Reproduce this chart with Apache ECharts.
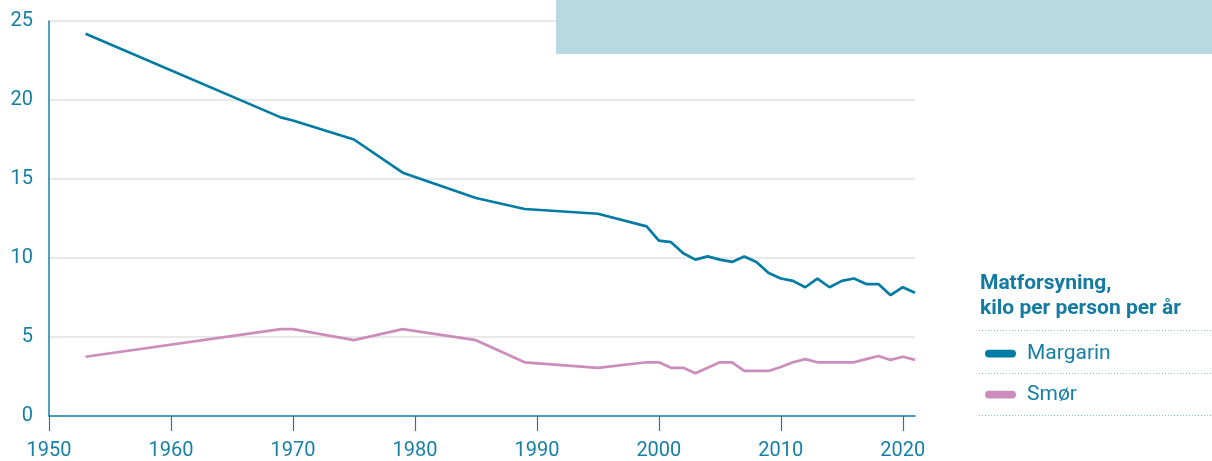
<!DOCTYPE html>
<html>
<head>
<meta charset="utf-8">
<script src="https://cdn.jsdelivr.net/npm/echarts@6/dist/echarts.min.js"></script>
<style>
  html, body { margin: 0; padding: 0; background: #fff; }
  #chart { width: 1212px; height: 461px; }
</style>
</head>
<body>
<div id="chart"></div>
<script>
const years = [1953, 1969, 1970, 1975, 1979, 1985, 1989, 1995, 1999,
  2000, 2001, 2002, 2003, 2004, 2005, 2006, 2007, 2008, 2009, 2010,
  2011, 2012, 2013, 2014, 2015, 2016, 2017, 2018, 2019, 2020, 2021]
const margarin = [24.2, 18.9, 18.7, 17.5, 15.4, 13.8, 13.1, 12.8, 12.0,
  11.1, 11.0, 10.3, 9.9, 10.1, 9.9, 9.75, 10.1, 9.75, 9.05, 8.7,
  8.55, 8.15, 8.7, 8.15, 8.55, 8.7, 8.35, 8.35, 7.65, 8.15, 7.8]
const smor = [3.75, 5.5, 5.5, 4.8, 5.5, 4.8, 3.4, 3.05, 3.4,
  3.4, 3.05, 3.05, 2.7, 3.05, 3.4, 3.4, 2.85, 2.85, 2.85, 3.1,
  3.4, 3.6, 3.4, 3.4, 3.4, 3.4, 3.6, 3.8, 3.55, 3.75, 3.55]
const xTicks = [1950, 1960, 1970, 1980, 1990, 2000, 2010, 2020]
const seriesNames = ['Margarin', 'Smør']
const legendTitle = ['Matforsyning,', 'kilo per person per år']

const teal = '#167fa6'
const colors = ['#007ba3', '#cc8dbd']

const chart = echarts.init(document.getElementById('chart'), null, { renderer: 'canvas' })

const pair = (arr) => years.map((y, i) => [y, arr[i]])

const dotted = (y) => ({
  type: 'line',
  shape: { x1: 979, y1: y, x2: 1212, y2: y },
  style: { stroke: '#7dbad0', lineWidth: 1, lineDash: [1, 2] }
})

const titleLine = (text, y) => ({
  type: 'text',
  x: 980,
  y: y,
  style: {
    text: text,
    fill: '#137aa1',
    font: 'bold 21px Roboto',
    verticalAlign: 'middle'
  }
})

const option = {
  animation: false,
  textStyle: { fontFamily: 'Roboto' },
  grid: { left: 49, right: 297, top: 21, bottom: 45 },
  xAxis: {
    type: 'value',
    min: 1950,
    max: 2021,
    interval: 10,
    splitLine: { show: false },
    axisLine: { lineStyle: { color: teal, width: 1.5 } },
    axisTick: {
      show: true,
      customValues: xTicks,
      length: 15,
      lineStyle: { color: '#3d6f86', width: 1.2 }
    },
    axisLabel: {
      customValues: xTicks,
      formatter: (v) => String(v),
      margin: 25,
      fontSize: 20,
      color: teal,
      fontFamily: 'Roboto'
    }
  },
  yAxis: {
    type: 'value',
    min: 0,
    max: 25,
    interval: 5,
    axisLine: { show: true, lineStyle: { color: teal, width: 1.5 } },
    axisTick: { show: false },
    splitLine: { lineStyle: { color: '#e2e2e2', width: 1.5 } },
    axisLabel: {
      margin: 16,
      fontSize: 20,
      color: teal,
      fontFamily: 'Roboto'
    }
  },
  legend: {
    orient: 'vertical',
    left: 980,
    top: 338,
    itemWidth: 31,
    itemHeight: 8,
    itemGap: 20,
    icon: 'path://M4,0 L28,0 A4,4 0 0 1 28,8 L4,8 A4,4 0 0 1 4,0 Z',
    textStyle: {
      fontSize: 21,
      color: teal,
      fontFamily: 'Roboto',
      padding: [0, 0, 0, 6]
    },
    data: seriesNames
  },
  graphic: [
    {
      type: 'rect',
      shape: { x: 556, y: 0, width: 656, height: 54 },
      style: { fill: '#b8d9e1' },
      z: 10
    },
    titleLine(legendTitle[0], 284),
    titleLine(legendTitle[1], 309),
    dotted(330.5),
    dotted(373.5),
    dotted(415.5)
  ],
  series: [
    {
      name: seriesNames[0],
      type: 'line',
      symbol: 'none',
      color: colors[0],
      lineStyle: { width: 2.7, color: colors[0] },
      data: pair(margarin)
    },
    {
      name: seriesNames[1],
      type: 'line',
      symbol: 'none',
      color: colors[1],
      lineStyle: { width: 2.7, color: colors[1] },
      data: pair(smor)
    }
  ]
}

chart.setOption(option)
</script>
</body>
</html>
